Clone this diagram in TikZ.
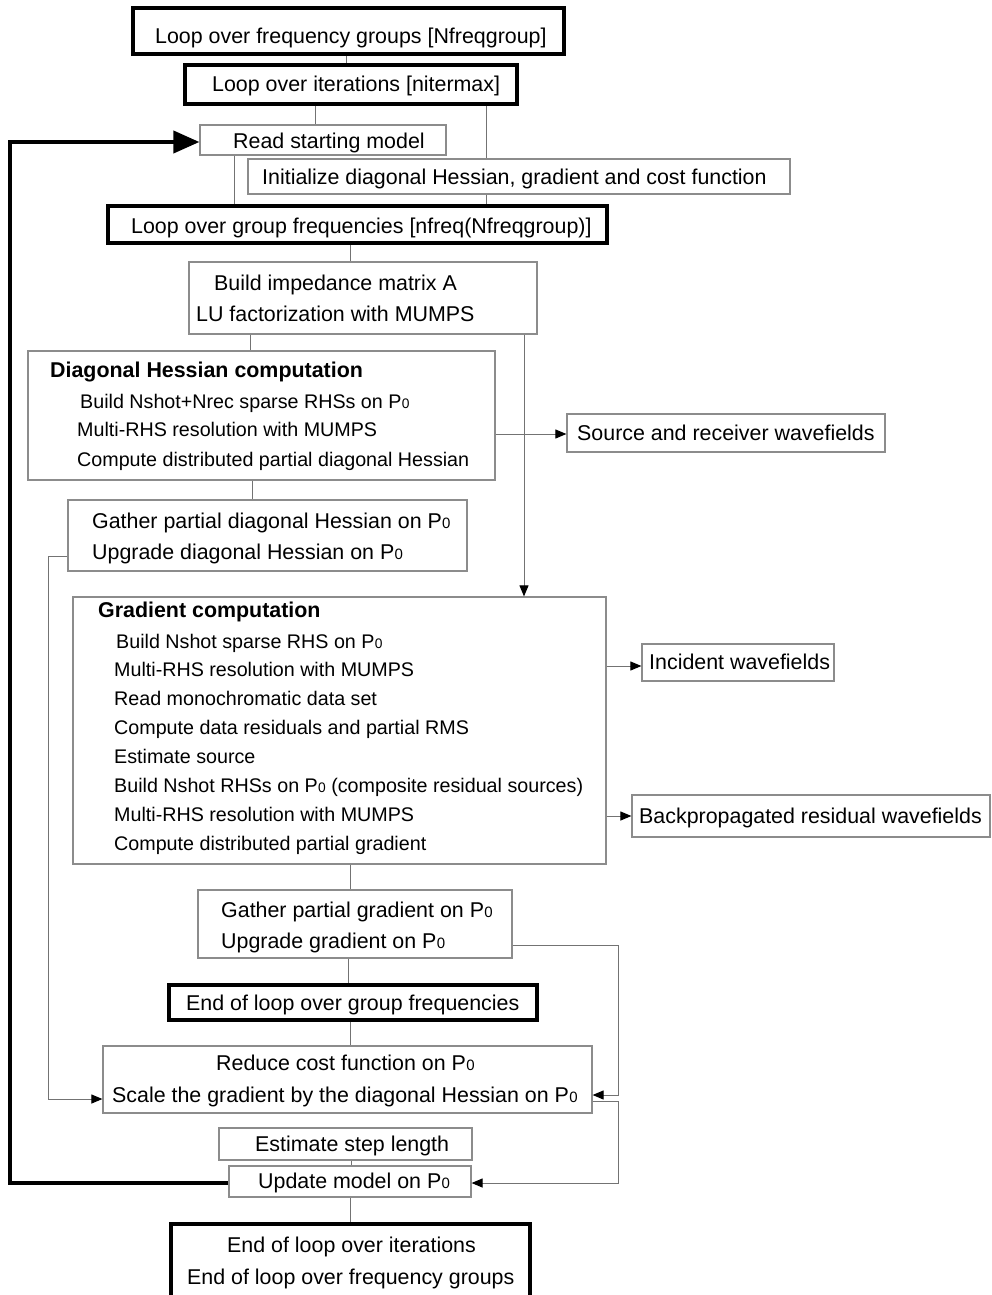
\documentclass[tikz,border=0pt]{standalone}
\usepackage{fontspec}
\setmainfont{Liberation Sans}
\usetikzlibrary{arrows.meta}
\newcommand\Pzero{P\kern0.3pt{\fontsize{15}{15}\selectfont 0}}
\newcommand\Pzs{P\kern0.3pt{\fontsize{13.8}{14}\selectfont 0}}
\begin{document}
\begin{tikzpicture}[x=1pt,y=-1pt,
 thinbox/.style={draw=black!45,line width=1.2pt,rectangle,inner sep=0pt},
 thickbox/.style={draw=black,line width=4pt,rectangle,inner sep=0pt},
 txt/.style={anchor=base west,inner sep=0pt,font=\fontsize{21.4}{25}\selectfont},
 stxt/.style={anchor=base west,inner sep=0pt,font=\fontsize{19.7}{23}\selectfont},
 btxt/.style={anchor=base west,inner sep=0pt,font=\fontsize{21.4}{25}\selectfont\bfseries},
 conn/.style={draw=black!55,line width=1pt},
 arr/.style={conn,-{Triangle[length=11pt,width=9pt,fill=black,color=black]}},
 loopback/.style={draw=black,line width=4pt,-{Triangle[length=26pt,width=22pt]}}]
\fill[white] (0,0) rectangle (991,1295);
\useasboundingbox (0,0) rectangle (991,1295);
\begin{scope}
\clip (0,0) rectangle (991,1295);
% boxes
\node[thickbox,minimum width=431,minimum height=46] (b1) at (348.5,31) {};
\node[thickbox,minimum width=332,minimum height=39] (b2) at (351,84.5) {};
\node[thinbox,minimum width=246,minimum height=30] (b3) at (323,140) {};
\node[thinbox,minimum width=542,minimum height=35] (b4) at (519,176.5) {};
\node[thickbox,minimum width=499,minimum height=37] (b5) at (357.5,224.5) {};
\node[thinbox,minimum width=348,minimum height=72] (b6) at (363,298) {};
\node[thinbox,minimum width=467,minimum height=129] (b7) at (261.5,415.5) {};
\node[thinbox,minimum width=318,minimum height=38] (b8) at (726,433) {};
\node[thinbox,minimum width=399,minimum height=71] (b9) at (267.5,535.5) {};
\node[thinbox,minimum width=533,minimum height=267] (b10) at (339.5,730.5) {};
\node[thinbox,minimum width=192,minimum height=37] (b11) at (738,662.5) {};
\node[thinbox,minimum width=358,minimum height=42] (b12) at (811,816) {};
\node[thinbox,minimum width=314,minimum height=68] (b13) at (355,924) {};
\node[thickbox,minimum width=368,minimum height=35] (b14) at (353,1002.5) {};
\node[thinbox,minimum width=489,minimum height=67] (b15) at (347.5,1079.5) {};
\node[thinbox,minimum width=253,minimum height=32] (b16) at (345.5,1144) {};
\node[thinbox,minimum width=242,minimum height=31] (b17) at (350,1181.5) {};
\node[thickbox,minimum width=359,minimum height=76] (b18) at (350.5,1262) {};
% texts
\node[txt] (t1) at (155,43.5) {Loop over frequency groups [Nfreqgroup]};
\node[txt] (t2) at (212,91.5) {Loop over iterations [nitermax]};
\node[txt] (t3) at (233,148.5) {Read starting model};
\node[txt] (t4) at (262,184.5) {Initialize diagonal Hessian, gradient and cost function};
\node[txt] (t5) at (131,233.5) {Loop over group frequencies [nfreq(Nfreqgroup)]};
\node[txt] (t6a) at (214,290.5) {Build impedance matrix A};
\node[txt] (t6b) at (196,321.5) {LU factorization with MUMPS};
\node[btxt] (t7a) at (50,377.5) {Diagonal Hessian computation};
\node[stxt] (t7b) at (80,408) {Build Nshot+Nrec sparse RHSs on \Pzs};
\node[stxt] (t7c) at (77,436) {Multi-RHS resolution with MUMPS};
\node[stxt] (t7d) at (77,466) {Compute distributed partial diagonal Hessian};
\node[txt] (t8) at (577,440.5) {Source and receiver wavefields};
\node[txt] (t9a) at (92,528.5) {Gather partial diagonal Hessian on \Pzero};
\node[txt] (t9b) at (92,559.5) {Upgrade diagonal Hessian on \Pzero};
\node[btxt] (t10a) at (98,617.5) {Gradient computation};
\node[stxt] (t10b) at (116,648) {Build Nshot sparse RHS on \Pzs};
\node[stxt] (t10c) at (114,676) {Multi-RHS resolution with MUMPS};
\node[stxt] (t10d) at (114,705) {Read monochromatic data set};
\node[stxt] (t10e) at (114,734) {Compute data residuals and partial RMS};
\node[stxt] (t10f) at (114,763) {Estimate source};
\node[stxt] (t10g) at (114,792) {Build Nshot RHSs on \Pzs\ (composite residual sources)};
\node[stxt] (t10h) at (114,821) {Multi-RHS resolution with MUMPS};
\node[stxt] (t10i) at (114,850) {Compute distributed partial gradient};
\node[txt] (t11) at (649,669.5) {Incident wavefields};
\node[txt] (t12) at (639,823.5) {Backpropagated residual wavefields};
\node[txt] (t13a) at (221,917.5) {Gather partial gradient on \Pzero};
\node[txt] (t13b) at (221,948.5) {Upgrade gradient on \Pzero};
\node[txt] (t14) at (186,1010.5) {End of loop over group frequencies};
\node[txt] (t15a) at (216,1070.5) {Reduce cost function on \Pzero};
\node[txt] (t15b) at (112,1102.5) {Scale the gradient by the diagonal Hessian on \Pzero};
\node[txt] (t16) at (255,1151.5) {Estimate step length};
\node[txt] (t17) at (258,1188.5) {Update model on \Pzero};
\node[txt] (t18a) at (227,1252.5) {End of loop over iterations};
\node[txt] (t18b) at (187,1284.5) {End of loop over frequency groups};
% connectors
\draw[conn] (346,0 |- b1.south) -- (346,0 |- b2.north);
\draw[conn] (315,0 |- b2.south) -- (315,0 |- b3.north);
\draw[conn] (486,0 |- b2.south) -- (486,0 |- b4.north);
\draw[conn] (234,0 |- b3.south) -- (234,0 |- b5.north);
\draw[conn] (486,0 |- b4.south) -- (486,0 |- b5.north);
\draw[conn] (350,0 |- b5.south) -- (350,0 |- b6.north);
\draw[conn] (250,0 |- b6.south) -- (250,0 |- b7.north);
\draw[arr] (524,0 |- b6.south) -- (524,0 |- b10.north);
\draw[arr] (b7.east |- 0,434) -- (b8.west |- 0,434);
\draw[conn] (252,0 |- b7.south) -- (252,0 |- b9.north);
\draw[arr] (b9.west |- 0,556) -- (48,556) -- (48,1099) -- (b15.west |- 0,1099);
\draw[conn] (350,0 |- b10.south) -- (350,0 |- b13.north);
\draw[arr] (b10.east |- 0,666) -- (b11.west |- 0,666);
\draw[arr] (b10.east |- 0,816) -- (b12.west |- 0,816);
\draw[arr] (b13.east |- 0,945) -- (618,945) -- (618,1095) -- (b15.east |- 0,1095);
\draw[conn] (348,0 |- b13.south) -- (348,0 |- b14.north);
\draw[conn] (350,0 |- b14.south) -- (350,0 |- b15.north);
\draw[arr] (b15.east |- 0,1101) -- (618,1101) -- (618,1183) -- (b17.east |- 0,1183);
\draw[conn] (351,0 |- b16.south) -- (351,0 |- b17.north);
\draw[conn] (350,0 |- b17.south) -- (350,0 |- b18.north);
\draw[loopback] (b17.west |- 0,1183) -- (10,1183) -- (10,142) -- (b3.west |- 0,142);
\end{scope}
\end{tikzpicture}
\end{document}
